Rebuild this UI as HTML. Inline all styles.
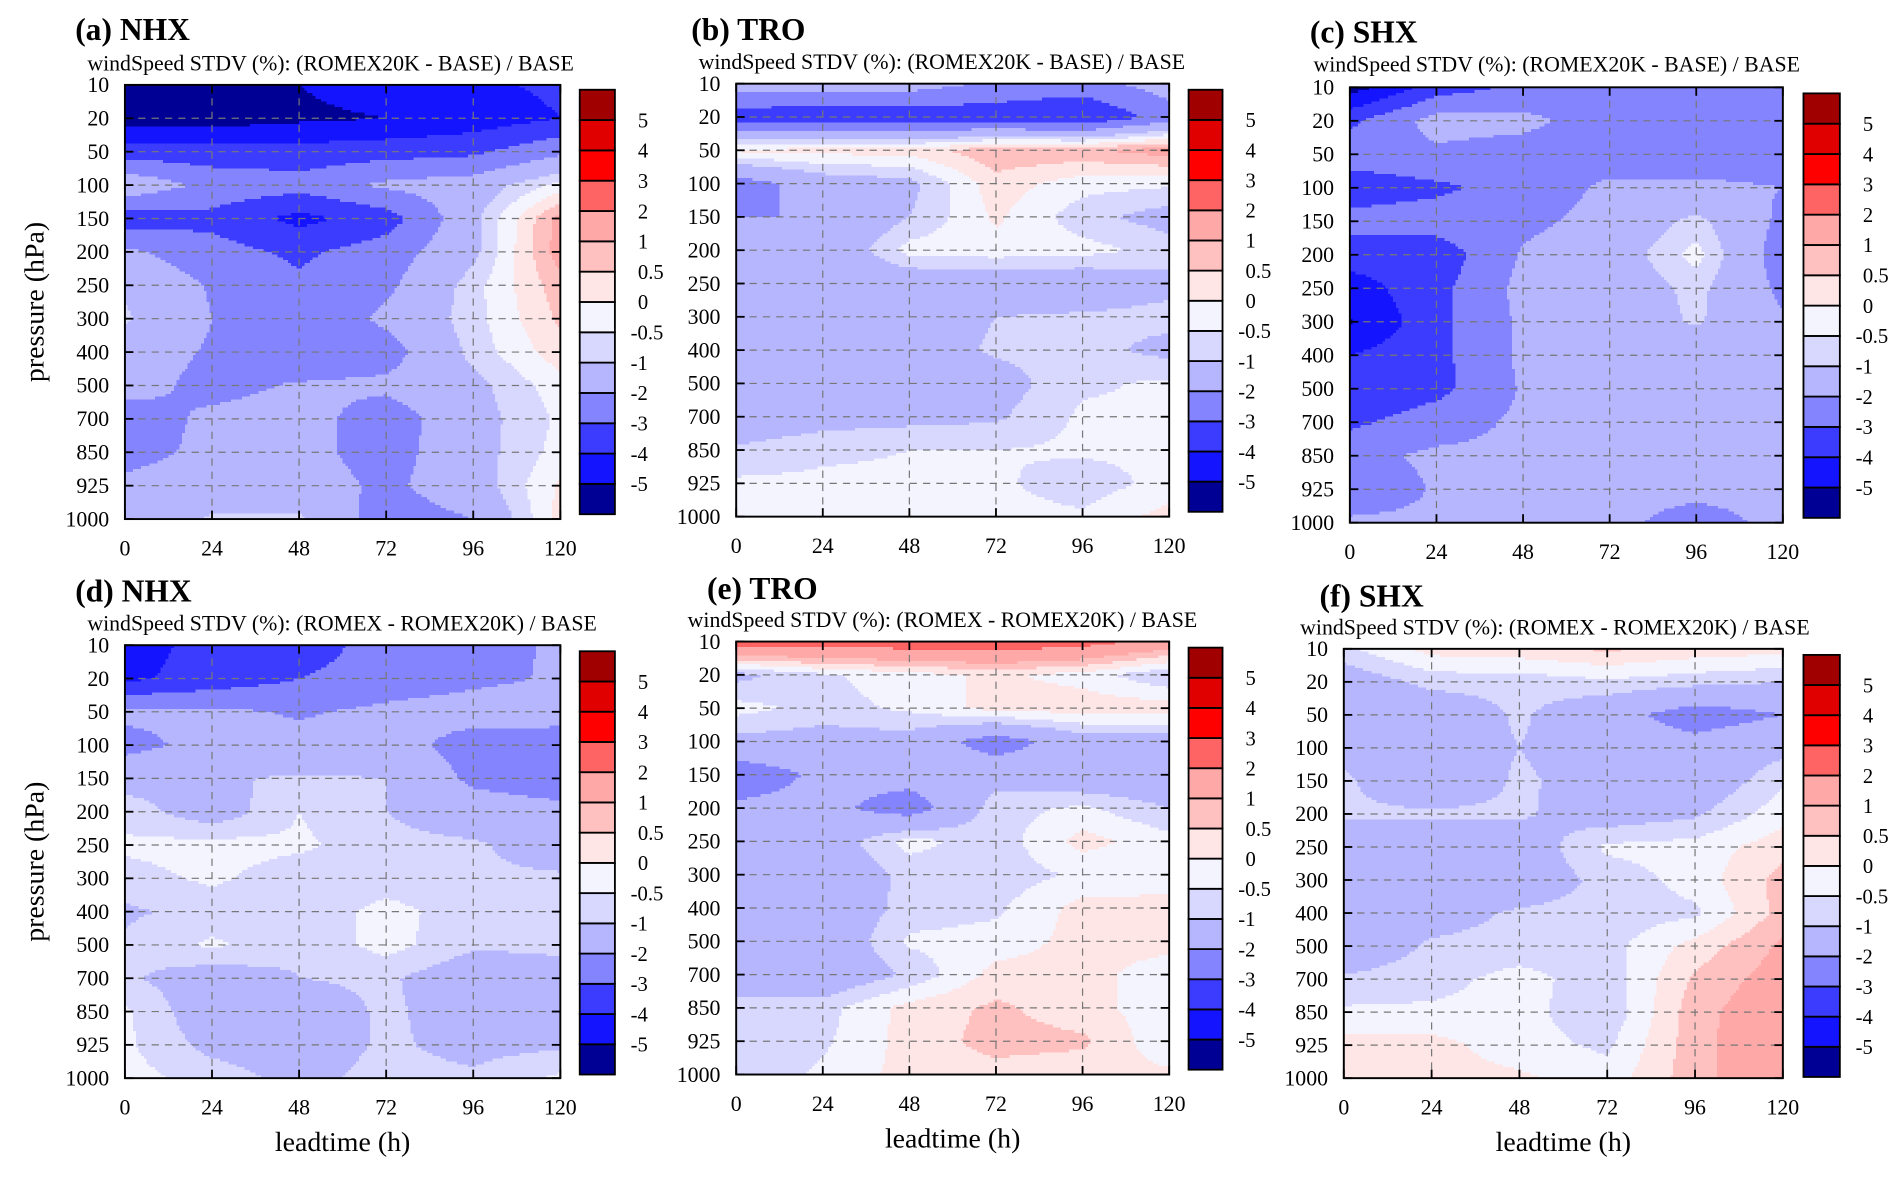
<!DOCTYPE html>
<html><head><meta charset="utf-8"><style>
html,body{margin:0;padding:0;background:#fff;}
svg{display:block;font-family:"Liberation Serif",serif;}
</style></head><body>
<svg id="fig" width="1892" height="1177" viewBox="0 0 1560 970.5" preserveAspectRatio="none" xmlns="http://www.w3.org/2000/svg"></svg>
<script>
const leadtimes=[0,24,48,72,96,120];
const pressureLevels=["10","20","50","100","150","200","250","300","400","500","700","850","925","1000"];
const bounds=[-5,-4,-3,-2,-1,-0.5,0,0.5,1,2,3,4,5];
const boundLabels=["-5","-4","-3","-2","-1","-0.5","0","0.5","1","2","3","4","5"];
const palette=["#000094","#1414ff","#3c3cff","#8484ff","#b6b6ff","#d8d8ff","#f4f4ff","#ffe6e6","#ffc0c0","#ffa8a8","#ff6464","#ff0000","#e00000","#a00000"];
const dataA=[
[-5.5,-5.5,-5.0,-4.5,-4.2,-3.8],[-5.5,-5.5,-5.2,-5.0,-4.6,-4.0],[-3.5,-3.6,-3.6,-3.4,-3.2,-2.2],
[-1.2,-2.3,-2.6,-1.8,-1.5,-0.3],[-3.5,-3.3,-4.3,-3.5,-1.2,1.2],[-1.8,-2.6,-3.2,-2.5,-1.2,1.3],
[-1.1,-2.1,-2.8,-2.2,-0.7,0.8],[-0.9,-2.0,-2.8,-1.8,-0.7,0.6],[-1.5,-2.1,-2.8,-2.4,-0.8,0.3],
[-1.6,-2.3,-1.9,-1.8,-1.2,-0.2],[-2.5,-1.8,-1.6,-2.5,-1.3,-0.4],[-2.3,-1.8,-1.7,-2.4,-1.3,-0.3],
[-1.8,-1.6,-1.5,-2.2,-1.4,0.1],[-1.6,-0.9,-0.9,-2.5,-2.0,0.2]];
const dataB=[
[-1.5,-1.5,-1.5,-2.2,-2.4,-1.5],[-3.5,-3.8,-3.7,-3.6,-4.0,-2.5],[0.1,0.2,0.2,0.9,0.9,1.3],
[-2.5,-1.5,-1.2,0.3,-0.3,-0.4],[-2.0,-2.0,-1.0,0.1,-0.8,-1.3],[-1.8,-1.8,-0.3,-0.2,-0.3,-0.7],
[-1.8,-1.8,-1.6,-1.6,-1.6,-1.2],[-1.8,-1.8,-1.4,-1.0,-0.9,-0.8],[-1.8,-1.7,-1.4,-0.9,-0.8,-1.2],
[-1.8,-1.7,-1.5,-1.3,-0.6,-0.4],[-1.6,-1.3,-1.2,-1.1,-0.4,-0.4],[-0.9,-0.6,-0.5,-0.5,-0.4,-0.4],
[-0.4,-0.4,-0.4,-0.4,-0.8,-0.3],[-0.3,-0.3,-0.3,-0.3,-0.4,0.2]];
const dataC=[
[-5.5,-3.5,-2.8,-2.5,-2.5,-2.5],[-3.2,-1.6,-1.7,-2.6,-2.6,-2.6],[-2.5,-2.2,-2.5,-2.5,-2.5,-2.5],
[-3.6,-3.2,-2.6,-1.8,-1.8,-2.0],[-2.6,-2.5,-2.2,-1.7,-0.8,-2.2],[-3.5,-3.6,-1.9,-1.5,-0.3,-2.5],
[-4.5,-3.3,-1.7,-1.6,-0.8,-2.2],[-5.1,-3.3,-1.8,-1.6,-0.9,-1.9],[-4.0,-3.3,-1.8,-1.8,-1.8,-1.8],
[-3.8,-3.3,-1.9,-1.8,-1.8,-1.8],[-3.2,-2.5,-1.8,-1.8,-1.8,-1.8],[-2.3,-1.8,-1.8,-1.8,-1.8,-1.8],
[-2.8,-1.9,-1.8,-1.8,-1.8,-1.8],[-1.8,-1.8,-1.8,-1.8,-2.3,-1.8]];
const dataD=[
[-4.5,-3.6,-3.6,-2.5,-2.5,-1.8],[-4.2,-3.6,-3.0,-2.5,-2.2,-1.9],[-1.8,-1.8,-2.1,-1.8,-1.6,-1.5],
[-2.3,-1.7,-1.7,-1.6,-2.4,-2.6],[-1.3,-1.1,-0.9,-1.0,-2.2,-2.6],[-0.7,-1.4,-0.5,-1.0,-1.5,-1.7],
[-0.4,-0.3,-0.4,-0.8,-0.9,-1.4],[-0.7,-0.4,-0.8,-0.8,-0.9,-0.9],[-1.1,-0.8,-0.9,-0.3,-0.8,-0.9],
[-0.9,-0.4,-0.9,-0.3,-0.9,-0.9],[-0.9,-1.4,-1.0,-0.9,-1.5,-1.2],[-0.4,-1.5,-1.4,-0.9,-1.3,-1.1],
[-0.4,-1.2,-1.4,-0.9,-1.2,-1.1],[-0.3,-0.7,-1.2,-0.8,-0.9,-0.4]];
const dataE=[
[2.5,2.6,2.6,2.7,2.4,1.6],[-1.2,-0.6,-0.2,0.1,-0.2,-1.0],[-0.3,-0.7,-0.4,0.2,0.3,0.3],
[-1.2,-1.3,-1.3,-2.5,-1.4,-1.4],[-2.6,-1.8,-1.6,-1.3,-1.7,-1.7],[-1.8,-1.7,-2.5,-0.7,-0.4,-1.0],
[-1.3,-1.5,-0.3,-0.8,0.2,-0.3],[-1.0,-1.7,-0.8,-0.8,-0.4,-0.3],[-1.6,-1.6,-0.8,-0.6,0.2,0.2],
[-1.8,-1.7,-0.4,-0.3,0.2,0.2],[-1.2,-1.7,-0.9,0.2,0.2,-0.3],[-0.9,-0.7,0.2,0.6,0.2,-0.3],
[-0.9,-0.6,0.2,0.7,0.6,-0.4],[-0.9,-0.4,0.2,0.3,0.2,0.1]];
const dataF=[
[-0.6,0.2,0.3,0.6,0.3,0.2],[-1.5,-0.8,-0.8,-0.6,-0.8,-1.0],[-1.6,-1.6,-0.9,-1.6,-2.5,-2.0],
[-1.2,-1.4,-1.0,-1.4,-1.6,-1.2],[-0.9,-1.6,-0.9,-1.3,-1.6,-0.6],[-0.9,-0.9,-0.9,-1.4,-1.1,-0.2],
[-1.5,-1.5,-1.5,-0.4,-0.3,0.3],[-1.0,-1.6,-1.5,-0.8,-0.3,0.7],[-1.5,-1.3,-0.9,-0.8,-0.6,0.7],
[-1.6,-0.9,-0.8,-0.7,0.2,1.1],[-0.9,-0.7,-0.3,-0.8,0.6,1.3],[-0.4,-0.4,-0.3,-0.9,0.8,1.5],
[0.2,0.2,-0.3,-0.6,0.8,1.6],[0.2,0.2,0.1,-0.3,0.8,1.6]];
const panelTitles=["(a) NHX","(b) TRO","(c) SHX","(d) NHX","(e) TRO","(f) SHX"];
const subTop="windSpeed STDV (%): (ROMEX20K - BASE) / BASE";
const subBot="windSpeed STDV (%): (ROMEX - ROMEX20K) / BASE";

const NS="http://www.w3.org/2000/svg";
const svg=document.getElementById('fig');
function mk(tag,attrs,parent){const e=document.createElementNS(NS,tag);for(const k in attrs)e.setAttribute(k,attrs[k]);(parent||svg).appendChild(e);return e;}
function colorFor(v){let i=0;while(i<bounds.length&&v>=bounds[i])i++;return palette[i];}

const layout=[
{d:dataA,x0:103,x1:462,y0:70,y1:428,cx:478,cw:29,cy0:74,cy1:424,tx:62,ty:33,sx:72,sy:58,sub:subTop,ylab:true,xlab:false},
{d:dataB,x0:607,x1:964,y0:69,y1:426,cx:980,cw:28,cy0:74,cy1:422,tx:570,ty:33,sx:576,sy:57,sub:subTop,ylab:false,xlab:false},
{d:dataC,x0:1113,x1:1470,y0:72,y1:431,cx:1487,cw:30,cy0:77,cy1:427,tx:1080,ty:35,sx:1083,sy:59,sub:subTop,ylab:false,xlab:false},
{d:dataD,x0:103,x1:462,y0:532,y1:889,cx:478,cw:29,cy0:537,cy1:886,tx:62,ty:496,sx:72,sy:520,sub:subBot,ylab:true,xlab:true},
{d:dataE,x0:607,x1:964,y0:529,y1:886,cx:980,cw:28,cy0:534,cy1:882,tx:583,ty:494,sx:567,sy:517,sub:subBot,ylab:false,xlab:true},
{d:dataF,x0:1108,x1:1470,y0:535,y1:889,cx:1487,cw:30,cy0:540,cy1:888,tx:1088,ty:500,sx:1072,sy:523,sub:subBot,ylab:false,xlab:true}
];

layout.forEach((p,pi)=>{
  const g=mk('g',{});
  
  
  const xScale=t=>p.x0+(t-leadtimes[0])/(leadtimes[leadtimes.length-1]-leadtimes[0])*(p.x1-p.x0);
  const yScale=i=>p.y0+i/(pressureLevels.length-1)*(p.y1-p.y0);
  const cg=mk('g',{'shape-rendering':'crispEdges'},g);
  
  
  const nx=160,ny=156,W=p.x1-p.x0,H=p.y1-p.y0;
  const ncol=leadtimes.length-1,nrow=pressureLevels.length-1;
  for(let j=0;j<ny;j++){
    const fy=(j+0.5)/ny*nrow;const r=Math.min(Math.floor(fy),nrow-1);const ty=fy-r;
    let runStart=0,runColor=null;
    const flush=(end)=>{const r2=mk('rect',{x:(p.x0+runStart/nx*W).toFixed(2),y:(p.y0+j/ny*H).toFixed(2),width:((end-runStart)/nx*W+0.3).toFixed(2),height:(H/ny+0.3).toFixed(2),fill:runColor},cg);
      
      };
    for(let i=0;i<nx;i++){
      const fx=(i+0.5)/nx*ncol;const c=Math.min(Math.floor(fx),ncol-1);const tx=fx-c;
      const v=(1-ty)*((1-tx)*p.d[r][c]+tx*p.d[r][c+1])+ty*((1-tx)*p.d[r+1][c]+tx*p.d[r+1][c+1]);
      const col=colorFor(v);
      if(col!==runColor){if(runColor!==null)flush(i);runColor=col;runStart=i;}
    }
    flush(nx);
  }
  for(let i=1;i<pressureLevels.length-1;i++){const l=mk('line',{x1:p.x0,x2:p.x1,y1:yScale(i),y2:yScale(i),stroke:'#777','stroke-width':1,'stroke-dasharray':'6,5'},g);
    }
  for(let i=1;i<leadtimes.length-1;i++){const l=mk('line',{x1:xScale(leadtimes[i]),x2:xScale(leadtimes[i]),y1:p.y0,y2:p.y1,stroke:'#777','stroke-width':1,'stroke-dasharray':'6,5'},g);
    }
  pressureLevels.forEach((lab,i)=>{const y=yScale(i);
    mk('line',{x1:p.x0,x2:p.x0+7,y1:y,y2:y,stroke:'#000','stroke-width':1.5},g);
    mk('line',{x1:p.x1-7,x2:p.x1,y1:y,y2:y,stroke:'#000','stroke-width':1.5},g);
    const t=mk('text',{x:p.x0-13,y:y+6,'text-anchor':'end','font-size':18},g);t.textContent=lab;
    });
  leadtimes.forEach(v=>{const x=xScale(v);
    mk('line',{x1:x,x2:x,y1:p.y1,y2:p.y1-7,stroke:'#000','stroke-width':1.5},g);
    mk('line',{x1:x,x2:x,y1:p.y0,y2:p.y0+7,stroke:'#000','stroke-width':1.5},g);
    const t=mk('text',{x:x,y:p.y1+30,'text-anchor':'middle','font-size':18},g);t.textContent=v;
    });
  const fr=mk('rect',{x:p.x0,y:p.y0,width:W,height:H,fill:'none',stroke:'#000','stroke-width':1.6},g);
  
  const tt=mk('text',{x:p.tx,y:p.ty,'font-size':26,'font-weight':'bold'},g);tt.textContent=panelTitles[pi];
  
  const st=mk('text',{x:p.sx,y:p.sy,'font-size':18},g);st.textContent=p.sub;
  
  if(p.ylab){const cyy=(p.y0+p.y1)/2;const yl=mk('text',{x:0,y:0,'font-size':23,'text-anchor':'middle',transform:`translate(36,${cyy}) rotate(-90)`},g);yl.textContent='pressure (hPa)';
    }
  if(p.xlab){const xl=mk('text',{x:(p.x0+p.x1)/2,y:p.y1+60,'font-size':23,'text-anchor':'middle'},g);xl.textContent='leadtime (h)';
    }
  const cb=mk('g',{},g);
  
  const nb=palette.length,bh=(p.cy1-p.cy0)/nb;
  palette.forEach((c,k)=>{const y=p.cy1-(k+1)*bh;const r=mk('rect',{x:p.cx,y:y,width:p.cw,height:bh,fill:c,stroke:'#000','stroke-width':1.5},cb);
    });
  boundLabels.forEach((lab,k)=>{const y=p.cy1-(k+1)*bh;const t=mk('text',{x:p.cx+p.cw+(lab.startsWith('-')?13:19),y:y+6,'font-size':17},cb);t.textContent=lab;
    });
});
</script>
</body></html>
